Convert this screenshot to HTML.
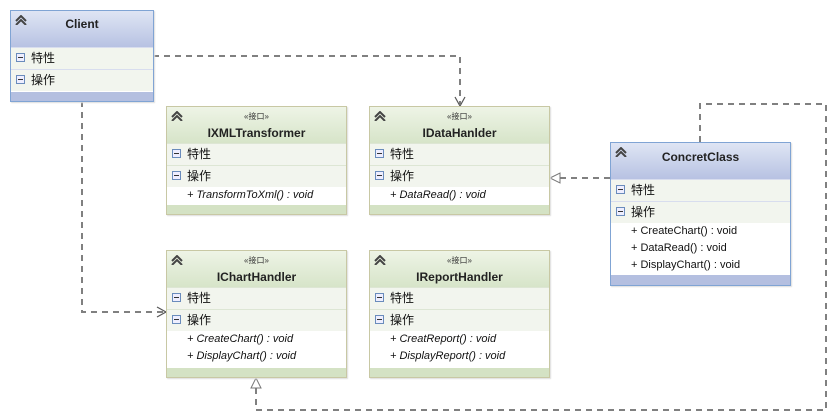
<!DOCTYPE html>
<html><head><meta charset="utf-8"><style>
body{margin:0;width:835px;height:420px;background:#fff;position:relative;overflow:hidden;font-family:"Liberation Sans","Noto Sans CJK SC",sans-serif;}
.box{position:absolute;box-sizing:border-box;border:1px solid #c8c8a4;box-shadow:1px 1px 1px #ddd;}
.box.cls{border-color:#80a4d4;}
.hd{position:absolute;left:0;right:0;top:0;background:linear-gradient(#eef4e6,#d6e4c8);}
.cls .hd{background:linear-gradient(#dfe5f4,#b6c1e2);}
.ic{position:absolute;left:4px;top:4px;width:12px;height:10px;}
.st{position:absolute;left:0;right:0;top:4px;text-align:center;font-size:8px;color:#333;}
.nm{position:absolute;left:0;right:0;text-align:center;font-size:12px;font-weight:bold;color:#222;}
.row{position:absolute;left:0;right:0;height:21px;background:#f2f5ee;border-top:1px solid #dde6d4;font-size:12px;line-height:21px;color:#111;}
.cls .row{border-top-color:#d8ddee;}
.row .m{display:inline-block;width:9px;height:9px;border:1px solid #6a8cbc;background:#eef;margin:0 6px 0 5px;position:relative;top:-1px;vertical-align:middle;box-sizing:border-box;}
.row .m::after{content:"";position:absolute;left:1px;right:1px;top:3px;height:1px;background:#333;}
.mt{position:absolute;left:0;right:0;background:#fff;font-size:11px;line-height:17px;padding-left:20px;color:#111;}
.mt i{font-style:italic;}
.ft{position:absolute;left:0;right:0;bottom:0;background:#d4e2c4;}
.cls .ft{background:#b4bfe0;}
</style></head><body>
<svg width="0" height="0" style="position:absolute"><defs><g id="chev" fill="none" stroke="#444" stroke-width="2"><path d="M1 6 L6 1 L11 6"/><path d="M1 10 L6 5 L11 10"/></g></defs></svg>
<svg width="835" height="420" style="position:absolute;left:0;top:0">
<g fill="none" stroke="#808080" stroke-width="2" stroke-dasharray="6,5">
<path d="M153 56 H460 V104"/>
<path d="M82 101 V312 H164"/>
<path d="M610 178 H552"/>
<path d="M700 142 V104 H826 V410 H256 V380"/>
</g>
<g fill="none" stroke="#555" stroke-width="1.2">
<path d="M455 97 L460 106 L465 97"/>
<path d="M157 307 L166 312 L157 317"/>
</g>
<path d="M550 178 L560 173 L560 183 Z" fill="#fff" stroke="#777"/>
<path d="M256 378 L251 388 L261 388 Z" fill="#fff" stroke="#777"/>
</svg>

<div class="box cls" style="left:10px;top:10px;width:144px;height:92px">
<div class="hd" style="height:37px"><svg class="ic"><use href="#chev"/></svg><div class="nm" style="top:6px">Client</div></div>
<div class="row" style="top:36px"><span class="m"></span>特性</div>
<div class="row" style="top:58px"><span class="m"></span>操作</div>
<div class="ft" style="height:9px"></div>
</div>

<div class="box" style="left:166px;top:106px;width:181px;height:109px">
<div class="hd" style="height:37px"><svg class="ic"><use href="#chev"/></svg><div class="st">«接口»</div><div class="nm" style="top:19px">IXMLTransformer</div></div>
<div class="row" style="top:36px"><span class="m"></span>特性</div>
<div class="row" style="top:58px"><span class="m"></span>操作</div>
<div class="mt" style="top:80px;height:18px"><i>+ TransformToXml() : void</i></div>
<div class="ft" style="height:9px"></div>
</div>

<div class="box" style="left:369px;top:106px;width:181px;height:109px">
<div class="hd" style="height:37px"><svg class="ic"><use href="#chev"/></svg><div class="st">«接口»</div><div class="nm" style="top:19px">IDataHanlder</div></div>
<div class="row" style="top:36px"><span class="m"></span>特性</div>
<div class="row" style="top:58px"><span class="m"></span>操作</div>
<div class="mt" style="top:80px;height:18px"><i>+ DataRead() : void</i></div>
<div class="ft" style="height:9px"></div>
</div>

<div class="box" style="left:166px;top:250px;width:181px;height:128px">
<div class="hd" style="height:37px"><svg class="ic"><use href="#chev"/></svg><div class="st">«接口»</div><div class="nm" style="top:19px">IChartHandler</div></div>
<div class="row" style="top:36px"><span class="m"></span>特性</div>
<div class="row" style="top:58px"><span class="m"></span>操作</div>
<div class="mt" style="top:80px;height:37px"><i>+ CreateChart() : void<br>+ DisplayChart() : void</i></div>
<div class="ft" style="height:9px"></div>
</div>

<div class="box" style="left:369px;top:250px;width:181px;height:128px">
<div class="hd" style="height:37px"><svg class="ic"><use href="#chev"/></svg><div class="st">«接口»</div><div class="nm" style="top:19px">IReportHandler</div></div>
<div class="row" style="top:36px"><span class="m"></span>特性</div>
<div class="row" style="top:58px"><span class="m"></span>操作</div>
<div class="mt" style="top:80px;height:37px"><i>+ CreatReport() : void<br>+ DisplayReport() : void</i></div>
<div class="ft" style="height:9px"></div>
</div>

<div class="box cls" style="left:610px;top:142px;width:181px;height:144px">
<div class="hd" style="height:37px"><svg class="ic"><use href="#chev"/></svg><div class="nm" style="top:7px">ConcretClass</div></div>
<div class="row" style="top:36px"><span class="m"></span>特性</div>
<div class="row" style="top:58px"><span class="m"></span>操作</div>
<div class="mt" style="top:80px;height:53px">+ CreateChart() : void<br>+ DataRead() : void<br>+ DisplayChart() : void</div>
<div class="ft" style="height:10px"></div>
</div>
</body></html>
